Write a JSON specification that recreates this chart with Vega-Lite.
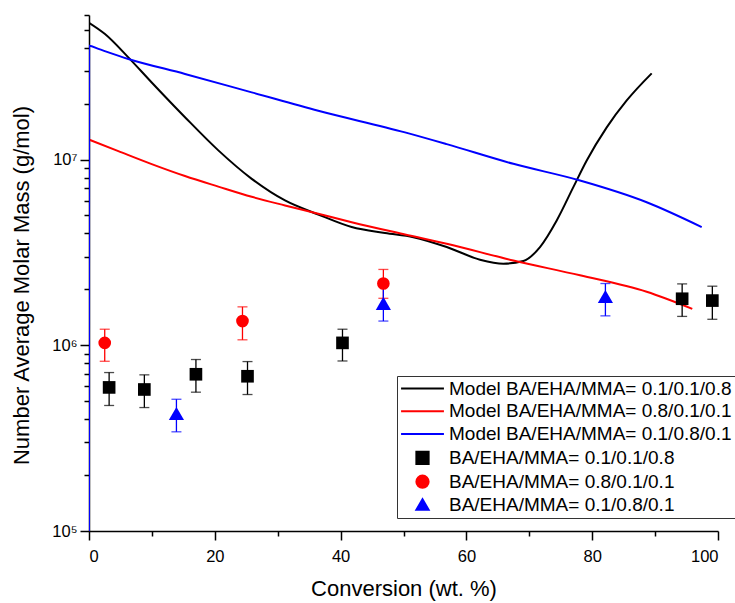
{
  "$schema": "https://vega.github.io/schema/vega-lite/v6.json",
  "width": 629,
  "height": 516,
  "autosize": {"type": "none"},
  "padding": {"left": 89, "top": 15, "right": 17, "bottom": 72},
  "background": "white",
  "config": {
    "view": {"stroke": null},
    "font": "Liberation Sans",
    "axis": {
      "grid": false,
      "domainColor": "black",
      "tickColor": "black",
      "domainWidth": 1.5,
      "tickWidth": 1.5,
      "labelFont": "Liberation Sans",
      "labelFontSize": 16.5,
      "labelColor": "black",
      "titleFont": "Liberation Sans",
      "titleFontWeight": "normal",
      "titleColor": "black",
      "titleFontSize": 22
    }
  },
  "datasets": {
    "lines": [
      {"series": "Model BA/EHA/MMA= 0.1/0.1/0.8", "x": 0, "y": 54500000},
      {"series": "Model BA/EHA/MMA= 0.1/0.1/0.8", "x": 2.54, "y": 47400000},
      {"series": "Model BA/EHA/MMA= 0.1/0.1/0.8", "x": 6.25, "y": 35500000},
      {"series": "Model BA/EHA/MMA= 0.1/0.1/0.8", "x": 9.97, "y": 26000000},
      {"series": "Model BA/EHA/MMA= 0.1/0.1/0.8", "x": 15.26, "y": 16900000},
      {"series": "Model BA/EHA/MMA= 0.1/0.1/0.8", "x": 20.56, "y": 11200000},
      {"series": "Model BA/EHA/MMA= 0.1/0.1/0.8", "x": 25.87, "y": 7870000},
      {"series": "Model BA/EHA/MMA= 0.1/0.1/0.8", "x": 31.16, "y": 6020000},
      {"series": "Model BA/EHA/MMA= 0.1/0.1/0.8", "x": 36.45, "y": 5060000},
      {"series": "Model BA/EHA/MMA= 0.1/0.1/0.8", "x": 41.76, "y": 4330000},
      {"series": "Model BA/EHA/MMA= 0.1/0.1/0.8", "x": 47.06, "y": 4020000},
      {"series": "Model BA/EHA/MMA= 0.1/0.1/0.8", "x": 51.56, "y": 3820000},
      {"series": "Model BA/EHA/MMA= 0.1/0.1/0.8", "x": 56.87, "y": 3380000},
      {"series": "Model BA/EHA/MMA= 0.1/0.1/0.8", "x": 62.16, "y": 2890000},
      {"series": "Model BA/EHA/MMA= 0.1/0.1/0.8", "x": 65.87, "y": 2750000},
      {"series": "Model BA/EHA/MMA= 0.1/0.1/0.8", "x": 69.05, "y": 2840000},
      {"series": "Model BA/EHA/MMA= 0.1/0.1/0.8", "x": 71.7, "y": 3380000},
      {"series": "Model BA/EHA/MMA= 0.1/0.1/0.8", "x": 74.36, "y": 4700000},
      {"series": "Model BA/EHA/MMA= 0.1/0.1/0.8", "x": 77.0, "y": 7100000},
      {"series": "Model BA/EHA/MMA= 0.1/0.1/0.8", "x": 79.13, "y": 9880000},
      {"series": "Model BA/EHA/MMA= 0.1/0.1/0.8", "x": 82.31, "y": 14900000},
      {"series": "Model BA/EHA/MMA= 0.1/0.1/0.8", "x": 85.49, "y": 20800000},
      {"series": "Model BA/EHA/MMA= 0.1/0.1/0.8", "x": 89.46, "y": 29100000},
      {"series": "Model BA/EHA/MMA= 0.8/0.1/0.1", "x": 0, "y": 12800000},
      {"series": "Model BA/EHA/MMA= 0.8/0.1/0.1", "x": 4.66, "y": 11100000},
      {"series": "Model BA/EHA/MMA= 0.8/0.1/0.1", "x": 9.97, "y": 9450000},
      {"series": "Model BA/EHA/MMA= 0.8/0.1/0.1", "x": 15.26, "y": 8150000},
      {"series": "Model BA/EHA/MMA= 0.8/0.1/0.1", "x": 20.56, "y": 7150000},
      {"series": "Model BA/EHA/MMA= 0.8/0.1/0.1", "x": 25.87, "y": 6300000},
      {"series": "Model BA/EHA/MMA= 0.8/0.1/0.1", "x": 31.16, "y": 5660000},
      {"series": "Model BA/EHA/MMA= 0.8/0.1/0.1", "x": 36.45, "y": 5110000},
      {"series": "Model BA/EHA/MMA= 0.8/0.1/0.1", "x": 41.76, "y": 4600000},
      {"series": "Model BA/EHA/MMA= 0.8/0.1/0.1", "x": 50.24, "y": 3950000},
      {"series": "Model BA/EHA/MMA= 0.8/0.1/0.1", "x": 56.87, "y": 3520000},
      {"series": "Model BA/EHA/MMA= 0.8/0.1/0.1", "x": 67.46, "y": 2860000},
      {"series": "Model BA/EHA/MMA= 0.8/0.1/0.1", "x": 78.06, "y": 2380000},
      {"series": "Model BA/EHA/MMA= 0.8/0.1/0.1", "x": 88.66, "y": 1940000},
      {"series": "Model BA/EHA/MMA= 0.8/0.1/0.1", "x": 95.91, "y": 1570000},
      {"series": "Model BA/EHA/MMA= 0.1/0.8/0.1", "x": 0, "y": 100000},
      {"series": "Model BA/EHA/MMA= 0.1/0.8/0.1", "x": 0.02, "y": 41000000},
      {"series": "Model BA/EHA/MMA= 0.1/0.8/0.1", "x": 1.5, "y": 39400000},
      {"series": "Model BA/EHA/MMA= 0.1/0.8/0.1", "x": 6.25, "y": 34800000},
      {"series": "Model BA/EHA/MMA= 0.1/0.8/0.1", "x": 15.26, "y": 28900000},
      {"series": "Model BA/EHA/MMA= 0.1/0.8/0.1", "x": 25.87, "y": 23000000},
      {"series": "Model BA/EHA/MMA= 0.1/0.8/0.1", "x": 36.45, "y": 18300000},
      {"series": "Model BA/EHA/MMA= 0.1/0.8/0.1", "x": 50.24, "y": 14000000},
      {"series": "Model BA/EHA/MMA= 0.1/0.8/0.1", "x": 56.87, "y": 12100000},
      {"series": "Model BA/EHA/MMA= 0.1/0.8/0.1", "x": 67.46, "y": 9480000},
      {"series": "Model BA/EHA/MMA= 0.1/0.8/0.1", "x": 78.06, "y": 7710000},
      {"series": "Model BA/EHA/MMA= 0.1/0.8/0.1", "x": 88.66, "y": 5890000},
      {"series": "Model BA/EHA/MMA= 0.1/0.8/0.1", "x": 97.41, "y": 4330000}
    ],
    "points": [
      {"series": "BA/EHA/MMA= 0.1/0.1/0.8", "x": 3.2, "y": 593000, "lo": 474000, "hi": 713000},
      {"series": "BA/EHA/MMA= 0.1/0.1/0.8", "x": 8.8, "y": 578000, "lo": 462000, "hi": 693000},
      {"series": "BA/EHA/MMA= 0.1/0.1/0.8", "x": 17.0, "y": 698000, "lo": 559000, "hi": 838000},
      {"series": "BA/EHA/MMA= 0.1/0.1/0.8", "x": 25.2, "y": 681000, "lo": 543000, "hi": 817000},
      {"series": "BA/EHA/MMA= 0.1/0.1/0.8", "x": 40.3, "y": 1030000, "lo": 823000, "hi": 1220000},
      {"series": "BA/EHA/MMA= 0.1/0.1/0.8", "x": 94.3, "y": 1780000, "lo": 1430000, "hi": 2140000},
      {"series": "BA/EHA/MMA= 0.1/0.1/0.8", "x": 99.1, "y": 1740000, "lo": 1380000, "hi": 2080000},
      {"series": "BA/EHA/MMA= 0.8/0.1/0.1", "x": 2.5, "y": 1030000, "lo": 820000, "hi": 1220000},
      {"series": "BA/EHA/MMA= 0.8/0.1/0.1", "x": 24.4, "y": 1350000, "lo": 1070000, "hi": 1610000},
      {"series": "BA/EHA/MMA= 0.8/0.1/0.1", "x": 46.8, "y": 2150000, "lo": 1790000, "hi": 2560000},
      {"series": "BA/EHA/MMA= 0.1/0.8/0.1", "x": 13.9, "y": 429000, "lo": 342000, "hi": 512000},
      {"series": "BA/EHA/MMA= 0.1/0.8/0.1", "x": 46.8, "y": 1680000, "lo": 1350000, "hi": 2080000},
      {"series": "BA/EHA/MMA= 0.1/0.8/0.1", "x": 82.1, "y": 1830000, "lo": 1440000, "hi": 2150000}
    ]
  },
  "encoding": {
    "x": {
      "field": "x",
      "type": "quantitative",
      "scale": {"domain": [0, 100], "nice": false, "zero": false},
      "axis": {
        "title": "Conversion (wt. %)",
        "values": [0, 10, 20, 30, 40, 50, 60, 70, 80, 90, 100],
        "labelExpr": "datum.value % 20 === 0 ? datum.label : ''",
        "tickSize": {"condition": {"test": "datum.value % 20 === 0", "value": 9}, "value": 5},
        "labelPadding": 8,
        "titlePadding": 14
      }
    },
    "y": {
      "field": "y",
      "type": "quantitative",
      "scale": {"type": "log", "domain": [100000, 60000000], "nice": false},
      "axis": {
        "title": "Number Average Molar Mass (g/mol)",
        "values": [100000, 200000, 300000, 400000, 500000, 600000, 700000, 800000, 900000, 1000000, 2000000, 3000000, 4000000, 5000000, 6000000, 7000000, 8000000, 9000000, 10000000, 20000000, 30000000, 40000000, 50000000, 60000000],
        "labelExpr": "datum.value == 100000 ? '10⁵' : datum.value == 1000000 ? '10⁶' : datum.value == 10000000 ? '10⁷' : ''",
        "tickSize": {"condition": {"test": "datum.value == 100000 || datum.value == 1000000 || datum.value == 10000000", "value": 9}, "value": 5},
        "labelPadding": 3,
        "titlePadding": 18,
        "titleY": 270
      }
    }
  },
  "layer": [
    {
      "data": {"name": "lines"},
      "mark": {"type": "line", "strokeWidth": 2, "interpolate": "monotone", "clip": true},
      "encoding": {
        "color": {
          "field": "series",
          "type": "nominal",
          "scale": {
            "domain": ["Model BA/EHA/MMA= 0.1/0.1/0.8", "Model BA/EHA/MMA= 0.8/0.1/0.1", "Model BA/EHA/MMA= 0.1/0.8/0.1", "BA/EHA/MMA= 0.1/0.1/0.8", "BA/EHA/MMA= 0.8/0.1/0.1", "BA/EHA/MMA= 0.1/0.8/0.1"],
            "range": ["#000000", "#ff0000", "#0000ff", "#000000", "#ff0000", "#0000ff"]
          },
          "legend": {
            "title": null,
            "orient": "none",
            "legendX": 308,
            "legendY": 361,
            "padding": 3,
            "strokeColor": "#333333",
            "fillColor": "white",
            "symbolSize": 150,
            "symbolStrokeWidth": 2,
            "symbolOffset": 13,
            "rowPadding": 2.8,
            "labelFont": "Liberation Sans",
            "labelFontSize": 19,
            "labelColor": "black",
            "labelLimit": 500,
            "labelOffset": 17,
            "encode": {
              "symbols": {
                "update": {
                  "stroke": {"scale": "color", "field": "value"},
                  "strokeWidth": {"value": 2},
                  "opacity": {"value": 1}
                }
              }
            }
          }
        }
      }
    },
    {
      "data": {"name": "points"},
      "mark": {"type": "rule", "strokeWidth": 1.3},
      "encoding": {
        "y": {"field": "lo", "type": "quantitative"},
        "y2": {"field": "hi"},
        "color": {"field": "series", "type": "nominal", "legend": null}
      }
    },
    {
      "data": {"name": "points"},
      "mark": {"type": "tick", "orient": "horizontal", "size": 10, "thickness": 1.3},
      "encoding": {
        "y": {"field": "lo", "type": "quantitative"},
        "color": {"field": "series", "type": "nominal", "legend": null}
      }
    },
    {
      "data": {"name": "points"},
      "mark": {"type": "tick", "orient": "horizontal", "size": 10, "thickness": 1.3},
      "encoding": {
        "y": {"field": "hi", "type": "quantitative"},
        "color": {"field": "series", "type": "nominal", "legend": null}
      }
    },
    {
      "data": {"name": "points"},
      "transform": [{"filter": "datum.series != 'BA/EHA/MMA= 0.1/0.8/0.1'"}],
      "mark": {"type": "point", "filled": true, "opacity": 1, "size": 160},
      "encoding": {
        "color": {"field": "series", "type": "nominal"},
        "shape": {
          "field": "series",
          "type": "nominal",
          "scale": {
            "domain": ["Model BA/EHA/MMA= 0.1/0.1/0.8", "Model BA/EHA/MMA= 0.8/0.1/0.1", "Model BA/EHA/MMA= 0.1/0.8/0.1", "BA/EHA/MMA= 0.1/0.1/0.8", "BA/EHA/MMA= 0.8/0.1/0.1", "BA/EHA/MMA= 0.1/0.8/0.1"],
            "range": ["M-3.5,0H3.5", "M-3.5,0H3.5", "M-3.5,0H3.5", "square", "circle", "triangle-up"]
          },
          "legend": {"title": null}
        }
      }
    },
    {
      "data": {"name": "points"},
      "transform": [{"filter": "datum.series == 'BA/EHA/MMA= 0.1/0.8/0.1'"}],
      "mark": {"type": "point", "filled": true, "opacity": 1, "size": 230},
      "encoding": {
        "color": {"field": "series", "type": "nominal"},
        "shape": {"field": "series", "type": "nominal"}
      }
    }
  ]
}
